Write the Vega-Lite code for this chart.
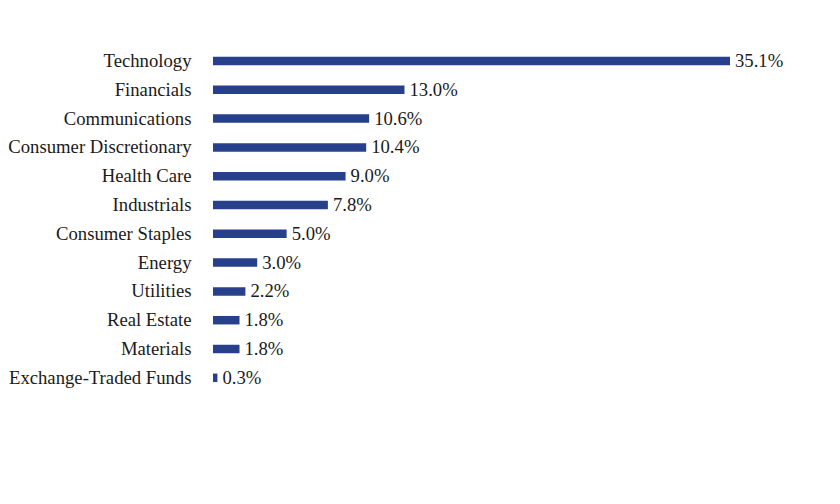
{
  "$schema": "https://vega.github.io/schema/vega-lite/v6.json",
  "autosize": {"type": "none"},
  "width": 517,
  "height": 345.6,
  "padding": {"left": 213, "top": 46.6, "right": 110, "bottom": 111.8},
  "background": "white",
  "data": {
    "values": [
      {"sector": "Technology", "share": 0.351},
      {"sector": "Financials", "share": 0.130},
      {"sector": "Communications", "share": 0.106},
      {"sector": "Consumer Discretionary", "share": 0.104},
      {"sector": "Health Care", "share": 0.090},
      {"sector": "Industrials", "share": 0.078},
      {"sector": "Consumer Staples", "share": 0.050},
      {"sector": "Energy", "share": 0.030},
      {"sector": "Utilities", "share": 0.022},
      {"sector": "Real Estate", "share": 0.018},
      {"sector": "Materials", "share": 0.018},
      {"sector": "Exchange-Traded Funds", "share": 0.003}
    ]
  },
  "encoding": {
    "y": {
      "field": "sector",
      "type": "nominal",
      "sort": null,
      "title": null,
      "axis": {
        "domain": false,
        "ticks": false,
        "labelPadding": 22,
        "labelFont": "Liberation Serif",
        "labelFontSize": 18.7,
        "labelColor": "#1a1a1a",
        "labelLimit": 300
      }
    },
    "x": {
      "field": "share",
      "type": "quantitative",
      "scale": {"domain": [0, 0.351], "nice": false},
      "axis": null
    }
  },
  "layer": [
    {"mark": {"type": "bar", "size": 8.5, "color": "#27408b"}},
    {
      "mark": {
        "type": "text",
        "align": "left",
        "baseline": "middle",
        "dx": 5,
        "dy": 0,
        "font": "Liberation Serif",
        "fontSize": 18.7,
        "color": "#1a1a1a"
      },
      "encoding": {
        "text": {"field": "share", "type": "quantitative", "format": ".1%"}
      }
    }
  ],
  "config": {
    "view": {"stroke": null},
    "axis": {"grid": false}
  }
}
